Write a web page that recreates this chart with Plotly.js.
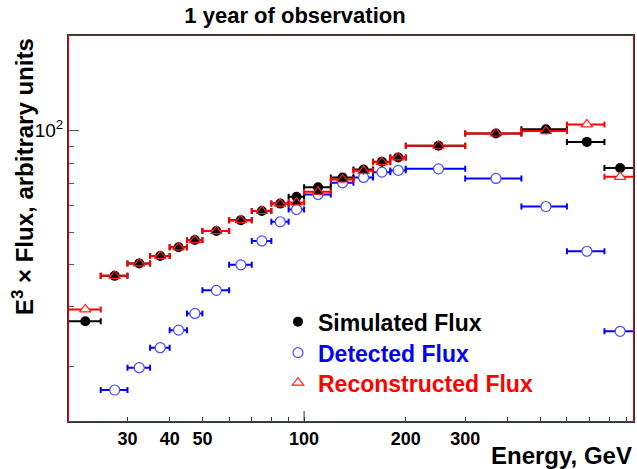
<!DOCTYPE html>
<html>
<head>
<meta charset="utf-8">
<script src="https://cdn.plot.ly/plotly-3.0.1.min.js"></script>
<style>html,body{margin:0;padding:0;background:#fff;}#chart{width:637px;height:469px;}</style>
</head>
<body>
<div id="chart"></div>
<script>
// Energy bin centres (GeV) and half bin widths
const energy      = [22.5, 27.5, 32.5, 37.5, 42.5, 47.5, 55, 65, 75, 85, 95, 110, 130, 150, 170, 190, 250, 370, 520, 687.5, 862.5];
const binHalf     = [2.5, 2.5, 2.5, 2.5, 2.5, 2.5, 5, 5, 5, 5, 5, 10, 10, 10, 10, 10, 50, 70, 80, 87.5, 87.5];
// E^3 x Flux (arbitrary units)
const simulated     = [27.2, 37.1, 40.4, 42.5, 45.1, 47.4, 50.4, 54.3, 57.8, 60.8, 63.7, 68.0, 72.7, 76.8, 80.9, 83.4, 90.3, 98.2, 101.0, 92.7, 77.6];
const detected      = [null, 17.0, 19.8, 22.7, 25.6, 28.7, 33.6, 40.0, 47.1, 53.7, 58.4, 64.7, 70.1, 72.7, 75.4, 76.3, 77.1, 72.2, 59.6, 43.9, 25.4];
const reconstructed = [29.5, 37.1, 40.4, 42.5, 45.1, 47.4, 50.4, 54.3, 57.8, 60.8, 61.3, 65.9, 71.7, 76.1, 80.7, 83.4, 90.3, 98.2, 99.8, 104.5, 73.0];
// axis ticks
const xTickVals = [30, 40, 50, 100, 200, 300];
const xTickText = ['30', '40', '50', '100', '200', '300'];
const xMinorVals = [20, 60, 70, 80, 90, 400, 500, 600, 700, 800, 900];
const yTickVals = [100];
const yTickText = ['10<sup>2</sup>'];
const yMinorVals = [20, 30, 40, 50, 60, 70, 80, 90];
const seriesNames = ['Simulated Flux', 'Detected Flux', 'Reconstructed Flux'];

const FONT = 'Liberation Sans, Arial, sans-serif';
// open triangle shows the black circle through it where both coincide
const redFill = reconstructed.map((v, i) => Math.abs(Math.log10(v / simulated[i])) < 0.02 ? '#000000' : '#ffffff');

const errStyle = (c) => ({type: 'data', array: binHalf, visible: true, color: c, thickness: 2, width: 3});

const traces = [
  {
    x: energy, y: detected, type: 'scatter', mode: 'markers', name: seriesNames[1], legend: 'legend2',
    error_x: errStyle('#0000ff'),
    marker: {symbol: 'circle', size: 10, color: '#ffffff', line: {color: '#4a4aff', width: 1.2}},
    hoverinfo: 'x+y'
  },
  {
    x: energy, y: simulated, type: 'scatter', mode: 'markers', name: seriesNames[0], legend: 'legend',
    error_x: errStyle('#000000'),
    marker: {symbol: 'circle', size: 10, color: '#000000'},
    hoverinfo: 'x+y'
  },
  {
    x: energy, y: reconstructed, type: 'scatter', mode: 'markers', name: seriesNames[2], legend: 'legend3',
    error_x: errStyle('#ff0000'),
    marker: {symbol: 'triangle-up', size: 10, color: redFill, line: {color: '#ff2020', width: 1.2}},
    hoverinfo: 'x+y'
  }
];

const W = 566, H = 387;
const legendBase = {
  xref: 'paper', yref: 'paper', x: 0.371, xanchor: 'left', yanchor: 'middle',
  bgcolor: 'rgba(0,0,0,0)', borderwidth: 0, itemclick: false, itemdoubleclick: false
};
const lfont = (c) => ({family: FONT, size: 23, color: c, weight: 'bold'});

const layout = {
  width: 637, height: 469,
  margin: {l: 68, r: 3, t: 35, b: 47, pad: 0},
  paper_bgcolor: '#ffffff', plot_bgcolor: '#ffffff',
  title: {text: '1 year of observation', font: {family: FONT, size: 22, color: '#000', weight: 'bold'},
          x: 295 / 637, xanchor: 'center', xref: 'container', y: 1 - 15.5 / 469, yanchor: 'middle', yref: 'container'},
  xaxis: {
    type: 'log', range: [Math.log10(20), Math.log10(948)],
    tickmode: 'array', tickvals: xTickVals, ticktext: xTickText,
    ticks: 'inside', ticklen: 5, tickwidth: 1, tickcolor: '#333',
    tickfont: {family: FONT, size: 18, color: '#000', weight: 'bold'},
    minor: {tickmode: 'array', tickvals: xMinorVals, ticks: 'inside', ticklen: 5, tickwidth: 1, tickcolor: '#333', showgrid: false},
    showgrid: false, zeroline: false, showline: true, linecolor: '#333', linewidth: 1, mirror: true
  },
  yaxis: {
    type: 'log', range: [1.1355, 2.2845],
    tickmode: 'array', tickvals: yTickVals, ticktext: yTickText,
    ticks: 'inside', ticklen: 11, tickwidth: 1, tickcolor: '#555',
    tickfont: {family: FONT, size: 19, color: '#000'},
    minor: {tickmode: 'array', tickvals: yMinorVals, ticks: 'inside', ticklen: 6, tickwidth: 1, tickcolor: '#555', showgrid: false},
    showgrid: false, zeroline: false, showline: true, linecolor: '#333', linewidth: 1, mirror: true
  },
  showlegend: true,
  legend:  Object.assign({}, legendBase, {y: (422 - 321.7) / H, font: lfont('#000000')}),
  legend2: Object.assign({}, legendBase, {y: (422 - 352.7) / H, font: lfont('#0000ff')}),
  legend3: Object.assign({}, legendBase, {y: (422 - 382.7) / H, font: lfont('#ff0000')}),
  shapes: [
    {type: 'rect', xref: 'paper', yref: 'paper', x0: 0.5 / W, x1: 1 - 0.5 / W, y0: 0.5 / H, y1: 1 - 0.5 / H,
     line: {color: '#e00000', width: 1}, layer: 'above'},
    {type: 'line', xref: 'x', yref: 'paper', x0: 100, x1: 100, y0: 0, y1: 11 / H, line: {color: '#333', width: 1}}
  ],
  annotations: [
    {text: 'E<sup>3</sup> × Flux, arbitrary units', textangle: -90, showarrow: false,
     xref: 'paper', yref: 'paper', x: (23 - 68) / W, xanchor: 'center', y: (422 - 177) / H, yanchor: 'middle',
     font: {family: FONT, size: 24, color: '#000', weight: 'bold'}},
    {text: 'Energy, GeV', showarrow: false, xref: 'paper', yref: 'paper', x: 1, xanchor: 'right',
     y: (422 - 455) / H, yanchor: 'middle', font: {family: FONT, size: 24, color: '#000', weight: 'bold'}}
  ]
};

Plotly.newPlot('chart', traces, layout, {displayModeBar: false, staticPlot: true});
</script>
</body>
</html>
